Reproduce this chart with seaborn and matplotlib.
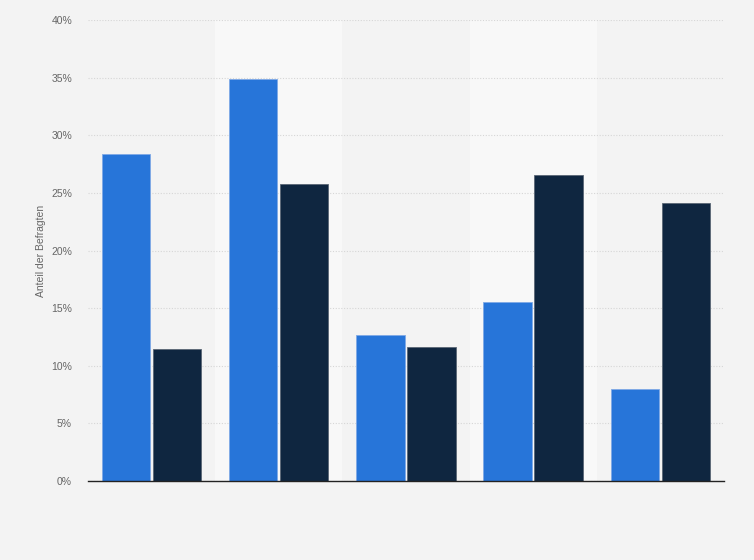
import pandas as pd
import seaborn as sns
from matplotlib import pyplot as plt
from matplotlib.ticker import PercentFormatter

# Data
categories = ["Gruppe 1", "Gruppe 2", "Gruppe 3", "Gruppe 4", "Gruppe 5"]
series_a = [28.4, 34.9, 12.7, 15.5, 8.0]
series_b = [11.5, 25.8, 11.6, 26.6, 24.1]
series_names = ["Serie 1", "Serie 2"]

df = pd.DataFrame({
    "Kategorie": categories * 2,
    "Serie": [series_names[0]] * len(categories) + [series_names[1]] * len(categories),
    "Anteil": series_a + series_b,
})

sns.set_style("white")
plt.rcParams["font.family"] = ["Liberation Sans", "DejaVu Sans"]

bg = "#f3f3f3"
fig = plt.figure(figsize=(7.54, 5.6), dpi=100, facecolor=bg)
ax = fig.add_axes([0.1167, 0.141, 0.8433, 0.823])
ax.set_facecolor(bg)

# lighter bands behind every second category
for i in range(len(categories)):
    if i % 2 == 1:
        ax.axvspan(i - 0.5, i + 0.5, facecolor="#f8f8f8", zorder=0, lw=0)

sns.barplot(
    data=df, x="Kategorie", y="Anteil", hue="Serie",
    palette=["#2775d9", "#0f2640"], width=0.8, gap=0.05,
    saturation=1, legend=False, ax=ax, zorder=3,
)
edge_colors = ["#7fa9e6", "#5a6675"]
for cont, ec in zip(ax.containers, edge_colors):
    for p in cont:
        p.set_edgecolor(ec)
        p.set_linewidth(0.6)

ax.set_xlim(-0.5, len(categories) - 0.5)
ax.set_ylim(0, 40)
ax.set_yticks(range(0, 41, 5))
ax.yaxis.set_major_formatter(PercentFormatter(decimals=0))
ax.set_xticks([])
ax.set_xlabel("")
ax.set_ylabel("Anteil der Befragten", fontsize=7.5, color="#666666", labelpad=4)

ax.set_axisbelow(True)
ax.yaxis.grid(True, color="#d6d6d6", linestyle=(0, (1, 1.5)), linewidth=0.8)
ax.xaxis.grid(False)
for s in ["top", "right", "left"]:
    ax.spines[s].set_visible(False)
ax.spines["bottom"].set_color("#222222")
ax.spines["bottom"].set_linewidth(1.0)
ax.spines["bottom"].set_zorder(5)
ax.tick_params(axis="y", left=False, labelsize=7.5, labelcolor="#666666", pad=8)

fig.savefig("out.png", dpi=100, facecolor=bg)
